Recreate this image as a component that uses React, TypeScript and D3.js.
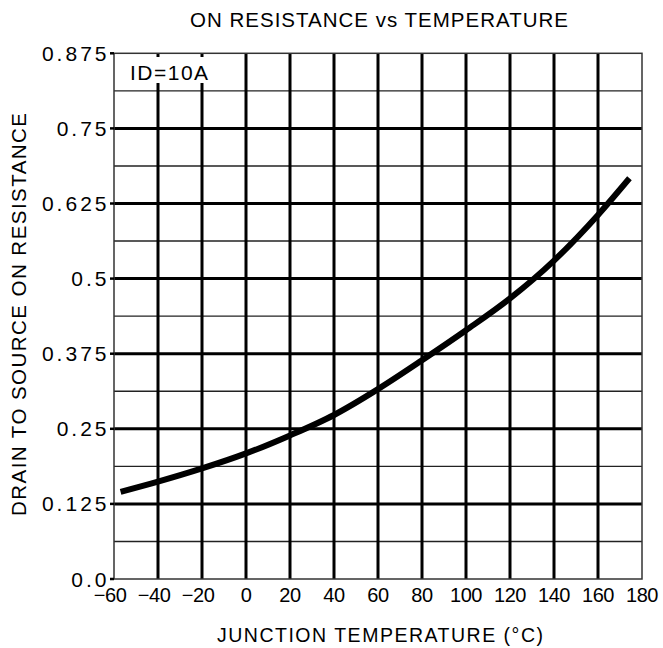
import React from "react";
import * as d3 from "d3";

const temps = [-57, -40, -20, 0, 20, 40, 60, 80, 100, 120, 140, 160, 174.3];
const rds = [0.145, 0.162, 0.184, 0.209, 0.239, 0.273, 0.316, 0.364, 0.414, 0.467, 0.53, 0.606, 0.667];
const xTicks = [-60, -40, -20, 0, 20, 40, 60, 80, 100, 120, 140, 160, 180];
const yTicks = [0, 0.125, 0.25, 0.375, 0.5, 0.625, 0.75, 0.875];
const yTickLabels = ["0.0", "0.125", "0.25", "0.375", "0.5", "0.625", "0.75", "0.875"];
const yMinor = [0.0625, 0.1875, 0.3125, 0.4375, 0.5625, 0.6875, 0.8125];
const title = "ON RESISTANCE vs TEMPERATURE";
const xTitle = "JUNCTION TEMPERATURE (°C)";
const yTitle = "DRAIN TO SOURCE ON RESISTANCE";
const annotation = "ID=10A";

const FONT = "'Liberation Sans', Arial, sans-serif";

export default function App() {
  const W = 663, H = 648;
  const L = 114, R = 642, T = 53.3, B = 579;
  const x = d3.scaleLinear().domain([-60, 180]).range([L, R]);
  const y = d3.scaleLinear().domain([0, 0.875]).range([B, T]);
  const pts = temps.map((t, i) => [t, rds[i]] as [number, number]);
  const line = d3
    .line<[number, number]>()
    .x((d) => x(d[0]))
    .y((d) => y(d[1]))
    .curve(d3.curveMonotoneX);

  const majorY = yTicks.filter((v) => v > 0 && v < 0.875);
  const majorX = xTicks.filter((v) => v > -60 && v < 180);

  return (
    <svg
      width={W}
      height={H}
      style={{ position: "absolute", left: 0, top: 0, background: "#fff" }}
    >
      <rect x={0} y={0} width={W} height={H} fill="#fff" />
      {yMinor.map((v) => (
        <line key={"mn" + v} x1={L} x2={R} y1={y(v)} y2={y(v)} stroke="#222" strokeWidth={1.4} />
      ))}
      {majorY.map((v) => (
        <line key={"my" + v} x1={L} x2={R} y1={y(v)} y2={y(v)} stroke="#000" strokeWidth={3} />
      ))}
      {majorX.map((v) => (
        <line key={"mx" + v} x1={x(v)} x2={x(v)} y1={T} y2={B} stroke="#000" strokeWidth={3} />
      ))}
      <rect x={L + 1} y={57} width={118} height={26} fill="#fff" />
      <text x={130} y={80} fontFamily={FONT} fontSize={21} letterSpacing={1.5} fill="#000">
        {annotation}
      </text>
      <rect x={L} y={T} width={R - L} height={B - T} fill="none" stroke="#333" strokeWidth={1.5} />
      {yTicks.map((v, i) => (
        <g key={"yt" + v}>
          <line x1={L - 4} x2={L} y1={y(v)} y2={y(v)} stroke="#000" strokeWidth={2.5} />
          <text
            x={109.5}
            y={y(v) + 7.5}
            textAnchor="end"
            fontFamily={FONT}
            fontSize={21}
            letterSpacing={3}
            fill="#000"
          >
            {yTickLabels[i]}
          </text>
        </g>
      ))}
      {xTicks.map((v) => (
        <text
          key={"xt" + v}
          x={x(v) + (v < 0 ? -4 : 0)}
          y={601.5}
          textAnchor="middle"
          fontFamily={FONT}
          fontSize={20}
          letterSpacing={-0.4}
          fill="#000"
        >
          {v < 0 ? "\u2212" + Math.abs(v) : String(v)}
        </text>
      ))}
      <path d={line(pts) || ""} fill="none" stroke="#000" strokeWidth={6} strokeLinecap="butt" />
      <text
        x={190}
        y={27}
        textLength={378}
        lengthAdjust="spacing"
        fontFamily={FONT}
        fontSize={20.5}
        fill="#000"
      >
        {title}
      </text>
      <text
        x={217}
        y={642}
        textLength={326}
        lengthAdjust="spacing"
        fontFamily={FONT}
        fontSize={19.5}
        fill="#000"
      >
        {xTitle}
      </text>
      <text
        transform={`translate(26,516) rotate(-90)`}
        x={0}
        y={0}
        textLength={403}
        lengthAdjust="spacing"
        fontFamily={FONT}
        fontSize={20.5}
        fill="#000"
      >
        {yTitle}
      </text>
    </svg>
  );
}
